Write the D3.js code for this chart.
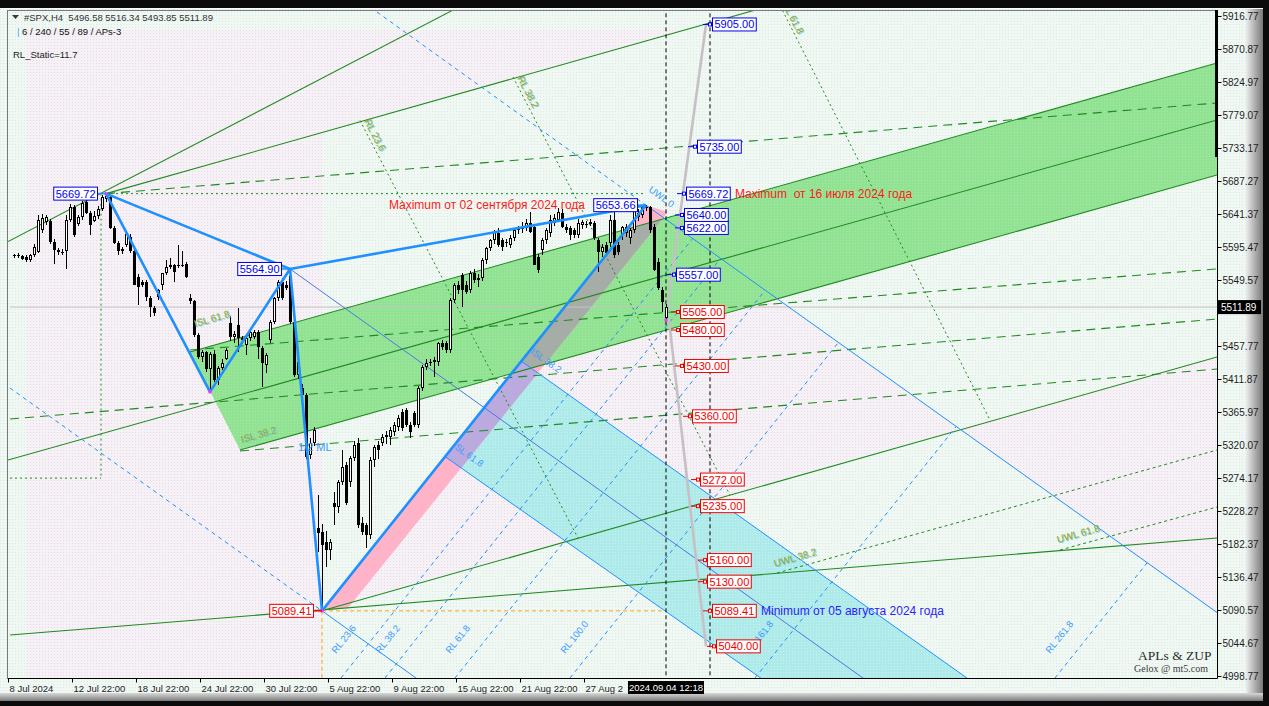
<!DOCTYPE html>
<html>
<head>
  <meta charset="utf-8">
  <title>#SPX,H4 - APLs &amp; ZUP</title>
  <script src="https://d3js.org/d3.v7.min.js"></script>
  <style>
    body { margin: 0; background: #000; }
    svg { display: block; }
    svg text { font-family: "Liberation Sans", Arial, sans-serif; }
  </style>
</head>
<body>
<script>
// ---------- data ----------
var priceTicks = [5916.77, 5870.87, 5824.97, 5779.07, 5733.17, 5687.27, 5641.37, 5595.47,
  5549.57, 5503.67, 5457.77, 5411.87, 5365.97, 5320.07, 5274.17, 5228.27, 5182.37,
  5136.47, 5090.57, 5044.67, 4998.77];
var timeTicks = [-0.5, 15.5, 31.5, 47.5, 63.5, 79.5, 95.5, 111.5, 127.5, 143.5];
var timeLabels = ["8 Jul 2024", "12 Jul 22:00", "18 Jul 22:00", "24 Jul 22:00", "30 Jul 22:00",
  "5 Aug 22:00", "9 Aug 22:00", "15 Aug 22:00", "21 Aug 22:00", "27 Aug 22:00"];
var lastBar = [164, "2024.09.04 12:18"];
var lastQuote = [5496.58, 5516.34, 5493.85, 5511.89];

// H4 bars 1..164 : [open, high, low, close]
var candles = [
  [5583,5586,5580,5584],[5584,5587,5580,5583],[5583,5585,5577,5579],[5582,5584,5574,5577],
  [5577,5586,5575,5584],[5584,5600,5582,5596],[5589,5640,5587,5633],[5619,5642,5615,5636],
  [5630,5640,5626,5637],[5631,5634,5600,5603],[5603,5606,5572,5591],[5591,5594,5585,5588],
  [5588,5592,5584,5589],[5590,5640,5565,5633],[5633,5655,5630,5651],[5651,5654,5610,5612],
  [5628,5640,5625,5637],[5637,5660,5633,5657],[5658,5661,5641,5643],[5643,5646,5612,5626],
  [5632,5646,5630,5638],[5638,5652,5634,5648],[5648,5668,5645,5665],[5662,5669.72,5658,5667],
  [5665,5667,5620,5622],[5622,5625,5599,5601],[5601,5604,5584,5590],[5592,5596,5586,5590],
  [5598,5615,5595,5613],[5610,5613,5587,5590],[5590,5592,5542,5543],[5554,5558,5515,5540],
  [5547,5550,5540,5543],[5547,5550,5520,5526],[5525,5528,5498,5512],[5511,5514,5500,5504],
  [5526,5537,5522,5535],[5542,5560,5535,5559],[5559,5578,5556,5568],[5568,5580,5565,5571],
  [5570,5572,5547,5561],[5570,5598,5566,5571],[5571,5590,5567,5570],[5572,5575,5552,5554],
  [5524,5530,5516,5520],[5520,5522,5470,5473],[5473,5476,5440,5442],[5442,5452,5436,5449],
  [5449,5451,5422,5426],[5426,5450,5394,5446],[5446,5452,5408,5410],[5410,5430,5403,5427],
  [5427,5440,5424,5434],[5440,5455,5438,5452],[5490,5500,5465,5470],[5470,5478,5462,5475],
  [5487,5510,5450,5469],[5469,5472,5460,5466],[5459,5472,5445,5469],[5469,5480,5465,5477],
  [5470,5480,5468,5477],[5477,5480,5440,5456],[5455,5458,5401,5434],[5431,5448,5420,5445],
  [5466,5494,5462,5491],[5491,5526,5488,5524],[5524,5550,5520,5547],[5547,5552,5522,5524],
  [5543,5548,5535,5538],[5555,5564.90,5488,5491],[5491,5495,5415,5418],[5418,5440,5412,5436],
  [5400,5405,5385,5390],[5390,5393,5300,5303],[5306,5330,5300,5323],[5323,5345,5318,5341],
  [5205,5250,5171,5198],[5199,5210,5089.41,5181],[5185,5200,5150,5174],[5174,5190,5160,5185],
  [5239,5255,5209,5234],[5234,5272,5225,5269],[5269,5313,5265,5289],[5292,5296,5236,5239],
  [5269,5305,5262,5302],[5302,5325,5298,5320],[5323,5330,5205,5209],[5212,5220,5195,5199],
  [5209,5212,5177,5195],[5195,5303,5190,5299],[5299,5320,5290,5317],[5320,5325,5300,5313],
  [5323,5335,5318,5331],[5331,5340,5322,5334],[5331,5345,5320,5341],[5338,5352,5333,5348],
  [5345,5362,5340,5358],[5366,5370,5340,5344],[5369,5372,5345,5348],[5348,5352,5330,5338],
  [5365,5368,5345,5348],[5348,5402,5344,5399],[5399,5432,5395,5428],[5428,5440,5424,5434],
  [5434,5440,5430,5436],[5436,5442,5415,5438],[5435,5464,5430,5462],[5462,5466,5452,5456],
  [5462,5465,5448,5452],[5452,5524,5448,5522],[5522,5545,5518,5543],[5543,5548,5530,5536],
  [5556,5560,5512,5536],[5543,5548,5530,5533],[5536,5562,5532,5559],[5559,5565,5545,5550],
  [5553,5558,5540,5550],[5552,5580,5548,5577],[5577,5596,5572,5594],[5594,5607,5590,5605],
  [5605,5619,5600,5616],[5615,5622,5595,5598],[5605,5608,5590,5595],[5602,5606,5596,5601],
  [5598,5612,5594,5608],[5608,5622,5604,5619],[5619,5625,5614,5622],[5620,5630,5615,5623],
  [5622,5634,5618,5629],[5629,5644,5615,5616],[5623,5626,5570,5570],[5582,5586,5560,5563],
  [5591,5608,5585,5605],[5605,5622,5600,5619],[5615,5640,5610,5633],[5629,5642,5625,5636],
  [5633,5650,5630,5644],[5643,5648,5622,5623],[5623,5628,5615,5619],[5622,5625,5605,5612],
  [5619,5622,5608,5612],[5612,5635,5608,5629],[5626,5633,5620,5630],[5628,5632,5622,5626],
  [5630,5634,5624,5627],[5629,5632,5605,5608],[5605,5608,5561,5588],[5588,5600,5582,5595],
  [5598,5602,5585,5587],[5601,5640,5596,5633],[5633,5645,5580,5584],[5598,5602,5585,5588],
  [5612,5625,5605,5623],[5615,5628,5610,5623],[5608,5622,5600,5619],[5619,5652,5615,5650],
  [5637,5648,5632,5643],[5640,5652,5636,5651],[5651,5653.66,5645,5650],[5651,5653,5615,5619],
  [5623,5628,5562,5563],[5575,5580,5535,5538],[5536,5540,5505,5519],[5496.58,5516.34,5493.85,5511.89]
];

// ZUP pivots [bar, price]
var zupPivots = [[24,5669.72],[50,5394],[70,5564.90],[78,5089.41],[159,5653.66]];
var zupExtra = [[[24,5669.72],[70,5564.90]], [[70,5564.90],[159,5653.66]]];

// filled zones (bar, price)
var channelFill = [[45,5449.4],[301.75,5851.4],[301.75,5695.6],[57.5,5313.1]];
var cyanFill = [[127.7,5437.2],[242,4985],[190.5,4985],[108.6,5304.5]];
var pinkBand = [[78,5089.41],[159,5653.66],[164.5,5644.1],[84.5,5093.3]];
var paleZones = [
  [[4,5897.3],[168.25,5897.3],[78,5754.6],[78,4985],[4,4985]],
  [[125,5418.8],[191.7,5523.3],[237.25,5342.3],[78,5089.41]],
  [[237.25,5342.3],[301.75,5442.4],[301.75,5087.1]]
];

// lines (bar, price)
var greenSolid = [
  [[45,5449.4],[301.75,5851.4]], [[57.5,5313.1],[301.75,5695.6]], [[-0.5,5299.2],[301.75,5772.1]],
  [[-0.5,5603],[110.75,5925]], [[24,5669.72],[192,5934]],
  [[78,5089.41],[301.75,5442.4]], [[0,5055.8],[301.75,5190.7]]
];
var greenLongDash = [
  [[24,5669.72],[301.75,5795.8]], [[45,5452.2],[301.75,5564.9]],
  [[0,5356.2],[301.75,5495.3]], [[57.5,5311.7],[301.75,5425.8]]
];
var greenShortDash = [[[191.75,5142.0],[301.75,5313.1]], [[262.5,5174.0],[301.75,5233.8]]];
var greenDotted = [
  [[87.5,5771.3],[142,5190.7]], [[125.75,5831.9],[180,5250.5]], [[192,5936.9],[245,5354.8]],
  [[22.75,5669.72],[22.75,5274]], [[0,5274],[22.75,5274]], [[24,5669.72],[159,5669.72]]
];
var blueThin = [
  [[159,5653.66],[301.75,5087.1]], [[78,5089.41],[103,4990]],
  [[127.7,5437.2],[242,4985]], [[108.6,5304.5],[190.5,4985]]
];
var medianLine = [[70,5564.90],[216,4985]];
var blueDashed = [
  [[91.75,5922.3],[159,5653.66]], [[0,5399.3],[78,5089.41]],
  [[82.75,4996],[170.66,5607.4]], [[93.75,4996],[177.66,5579.6]], [[111.25,4996],[188.8,5535.4]],
  [[140,4996],[207.1,5462.7]], [[186.25,4996],[236.55,5345.8]], [[261.25,4996],[284.3,5156.3]]
];
var orangeLevel = [[[78,5089.41],[163,5089.41]], [[78,5089.41],[78,4985]]];
var timeMarks = [164, 175];
var projections = [[[164,5497],[174,5905]], [[164.75,5494],[174,5040]]];

// target levels and the bar where each tag stands
var upTargets = [5905, 5735, 5669.72, 5640, 5622, 5557];
var upTargetBars = [175.5, 171.75, 169, 168.5, 168.5, 166.5];
var downTargets = [5505, 5480, 5430, 5360, 5272, 5235, 5160, 5130, 5089.41, 5040];
var downTargetBars = [167.5, 167.5, 168.5, 170.5, 172.5, 172.5, 174.25, 174.25, 175.5, 176.5];

var notes = [["Maximum от 02 сентября 2024 года", 94.75, 5653.66],
             ["Maximum  от 16 июля 2024 года", 181.25, 5669.72],
             ["Minimum от 05 августа 2024 года", 187.75, 5089.41]];
var levelTags = [["ISL 61.8",46.25,5484.2,-16], ["ISL 38.2",58,5322.8,-16],
  ["UWL 38.2",191.25,5150.4,-16], ["UWL 61.8",262,5183.7,-16],
  ["RL 23.6",88.5,5770.7,62.6], ["RL 38.2",126.75,5830.5,62.6], ["RL 61.8",193,5933.5,62.6]];
var forkTags = [["UWL 0",159.5,5673.3,35.5], ["ISL 38.2",130,5448,35.5], ["ISL 61.8",110.5,5317.3,35.5],
  ["1/2 ML",72,5311.7,0], ["RL 23.6",81.5,5029.4,-51.3], ["RL 38.2",92.5,5029.4,-51.3],
  ["RL 61.8",110,5029.4,-51.3], ["RL 100.0",138.75,5029.4,-51.3], ["RL 161.8",185,5029.4,-51.3],
  ["RL 261.8",260,5029.4,-51.3]];

// ---------- drawing ----------
var W = 1269, H = 706;
var x = d3.scaleLinear().domain([0, 301.75]).range([10, 1217]);
var y = d3.scaleLinear().domain([4998.77, 5916.77]).range([676, 16]);
var line = d3.line().x(function (d) { return x(d[0]); }).y(function (d) { return y(d[1]); });

var svg = d3.select("body").append("svg").attr("width", W).attr("height", H);
var defs = svg.append("defs");

function dotPattern(id, bg, dot) {
  var p = defs.append("pattern").attr("id", id).attr("patternUnits", "userSpaceOnUse")
    .attr("width", 3).attr("height", 3);
  p.append("rect").attr("width", 3).attr("height", 3).attr("fill", bg);
  p.append("rect").attr("width", 1).attr("height", 1).attr("fill", dot);
}
dotPattern("dBg", "#f1f8f2", "#d2eaf0");
dotPattern("dPink", "#f4f2f4", "#f2d2ee");
dotPattern("dGreen", "#92e294", "#a6e8a8");
dotPattern("dCyan", "#aeeaea", "#c8f3f3");

var gR = defs.append("linearGradient").attr("id", "bevR").attr("x1", 0).attr("x2", 1).attr("y1", 0).attr("y2", 0);
gR.append("stop").attr("offset", "0%").attr("stop-color", "#ececec");
gR.append("stop").attr("offset", "100%").attr("stop-color", "#787878");
var gB = defs.append("linearGradient").attr("id", "bevB").attr("x1", 0).attr("x2", 0).attr("y1", 0).attr("y2", 1);
gB.append("stop").attr("offset", "0%").attr("stop-color", "#d8d8d8");
gB.append("stop").attr("offset", "100%").attr("stop-color", "#7a7a7a");

defs.append("clipPath").attr("id", "plot").append("rect")
  .attr("x", 8).attr("y", 10).attr("width", 1209).attr("height", 668);
defs.append("clipPath").attr("id", "cGreen").append("path").attr("d", line(channelFill) + "Z");
defs.append("clipPath").attr("id", "cCyan").append("path").attr("d", line(cyanFill) + "Z");

// window frame
svg.append("rect").attr("width", W).attr("height", H).attr("fill", "#0b0b0b");
svg.append("rect").attr("x", 0).attr("y", 8).attr("width", 1263).attr("height", 693).attr("fill", "url(#dBg)");
svg.append("rect").attr("x", 1246).attr("y", 8).attr("width", 17).attr("height", 693).attr("fill", "url(#bevR)");
svg.append("rect").attr("x", 0).attr("y", 693).attr("width", 1263).attr("height", 8).attr("fill", "url(#bevB)");
svg.append("line").attr("x1", 0).attr("x2", 1263).attr("y1", 8.5).attr("y2", 8.5).attr("stroke", "#fafafa");

var chart = svg.append("g").attr("clip-path", "url(#plot)");

function strokes(data, color, width, dash) {
  chart.append("g").selectAll("path").data(data).enter().append("path")
    .attr("d", line).attr("fill", "none").attr("stroke", color)
    .attr("stroke-width", width).attr("stroke-dasharray", dash || null);
}
function zone(pts, fill, clip) {
  chart.append("path").attr("d", line(pts) + "Z").attr("fill", fill)
    .attr("clip-path", clip || null);
}

// fills
paleZones.forEach(function (z) { zone(z, "url(#dPink)"); });
zone(cyanFill, "url(#dCyan)");
zone(channelFill, "url(#dGreen)");
zone(pinkBand, "#ffb3c9");
zone(pinkBand, "#a6aca6", "url(#cGreen)");
zone(pinkBand, "#baaade", "url(#cCyan)");

// current price line
strokes([[[0, lastQuote[3]], [301.75, lastQuote[3]]]], "#c9c2c4", 1);

// analysis lines
strokes(greenSolid, "#1f8a1f", 1.1);
strokes(greenLongDash, "#1f8a1f", 1.1, "9,6");
strokes(greenShortDash, "#1f8a1f", 1, "3,3");
strokes(greenDotted, "#1f8a1f", 1, "2,3");
strokes(blueThin, "#1e90ff", 1);
strokes([medianLine], "#4a78e0", 1);
strokes(blueDashed, "#1e90ff", 1, "4,4");
strokes(orangeLevel, "#ffa11a", 1, "4,3");
strokes(timeMarks.map(function (b) { return [[b, 5940], [b, 4980]]; }), "#000", 1, "4,3");
strokes(projections, "#c6c0c6", 2.6);

// candles
var cg = chart.append("g").attr("shape-rendering", "crispEdges");
var bar = cg.selectAll("g").data(candles).enter().append("g");
bar.append("rect")
  .attr("x", function (d, i) { return Math.round(x(i + 1)); })
  .attr("y", function (d) { return Math.round(y(d[1])); })
  .attr("width", 1)
  .attr("height", function (d) { return Math.max(1, Math.round(y(d[2])) - Math.round(y(d[1]))); })
  .attr("fill", "#000");
bar.append("rect")
  .attr("x", function (d, i) { return Math.round(x(i + 1)) - 1; })
  .attr("y", function (d) { return Math.round(y(Math.max(d[0], d[3]))); })
  .attr("width", 3)
  .attr("height", function (d) { return Math.max(1, Math.round(y(Math.min(d[0], d[3]))) - Math.round(y(Math.max(d[0], d[3])))); })
  .attr("fill", "#000");
bar.filter(function (d) { return d[3] > d[0] && (y(d[0]) - y(d[3])) > 2.5; }).append("rect")
  .attr("x", function (d) { return Math.round(x(candles.indexOf(d) + 1)); })
  .attr("y", function (d) { return Math.round(y(d[3])) + 1; })
  .attr("width", 1)
  .attr("height", function (d) { return Math.round(y(d[0])) - Math.round(y(d[3])) - 2; })
  .attr("fill", "#fff");

// ZUP zigzag
chart.append("path").attr("d", line(zupPivots)).attr("fill", "none")
  .attr("stroke", "#1e90ff").attr("stroke-width", 2.6).attr("stroke-linejoin", "round");
strokes(zupExtra, "#1e90ff", 2.6);
chart.selectAll(null).data([zupPivots[0], zupPivots[1], zupPivots[3], [164, lastQuote[2]]]).enter()
  .append("rect").attr("x", function (d) { return x(d[0]) - 1.5; }).attr("y", function (d) { return y(d[1]) - 1.5; })
  .attr("width", 3).attr("height", 3).attr("fill", "#ff30ff");

// tags along the lines
var tg = chart.append("g");
levelTags.forEach(function (t) {
  var px = x(t[1]), py = y(t[2]);
  tg.append("text").attr("transform", "translate(" + (px + 0.8) + "," + (py + 0.8) + ") rotate(" + t[3] + ")")
    .attr("font-size", 10).attr("fill", "#6fd3ea").text(t[0]);
  tg.append("text").attr("transform", "translate(" + px + "," + py + ") rotate(" + t[3] + ")")
    .attr("font-size", 10).attr("fill", "#9aa424").text(t[0]);
});
forkTags.forEach(function (t) {
  tg.append("text").attr("transform", "translate(" + x(t[1]) + "," + y(t[2]) + ") rotate(" + t[3] + ")")
    .attr("font-size", t[3] === 0 ? 11 : 9.5).attr("fill", "#3d9bff").text(t[0]);
});

// price tags
var lg = chart.append("g");
function tag(left, p, txt, color, anchorEnd) {
  var cy = y(p);
  var t = lg.append("text").attr("font-size", 11).attr("fill", color).attr("y", cy).attr("dy", "0.36em").text(txt);
  var w = t.node().getComputedTextLength() + 4;
  var bx = anchorEnd ? left - w : left;
  lg.insert("rect", function () { return t.node(); }).attr("x", bx + 0.5).attr("y", cy - 6.5)
    .attr("width", w).attr("height", 13).attr("fill", "#fff").attr("stroke", color).attr("stroke-width", 1);
  t.attr("x", bx + 2.5);
  return w;
}
function target(b, p, color) {
  var left = x(b), cy = y(p);
  lg.append("line").attr("x1", left - 9).attr("x2", left - 2).attr("y1", cy).attr("y2", cy)
    .attr("stroke", color).attr("stroke-width", 1);
  lg.append("rect").attr("x", left - 3.5).attr("y", cy - 1.5).attr("width", 3).attr("height", 3)
    .attr("fill", "#fff").attr("stroke", color);
  tag(left, p, d3.format(".2f")(p), color, false);
}
upTargets.forEach(function (p, i) { target(upTargetBars[i], p, "#0000ee"); });
downTargets.forEach(function (p, i) { target(downTargetBars[i], p, "#ee0000"); });
[zupPivots[0], zupPivots[2], zupPivots[4], zupPivots[3]].forEach(function (d) {
  var color = d === zupPivots[3] ? "#ee0000" : "#0000ee";
  lg.append("line").attr("x1", x(d[0]) - 10).attr("x2", x(d[0])).attr("y1", y(d[1])).attr("y2", y(d[1]))
    .attr("stroke", color === "#ee0000" ? color : "#1e90ff").attr("stroke-width", 1.5);
  tag(x(d[0]) - 9, d[1], d3.format(".2f")(d[1]), color, true);
});
lg.selectAll(null).data(notes).enter().append("text")
  .attr("x", function (d) { return x(d[1]); }).attr("y", function (d) { return y(d[2]); }).attr("dy", "0.36em")
  .attr("font-size", 12).style("white-space", "pre")
  .attr("fill", function (d, i) { return i < 2 ? "#ff1a1a" : "#2a22ff"; })
  .text(function (d) { return d[0]; });

// watermark
svg.append("text").attr("x", 1138).attr("y", 660).attr("font-size", 13.5).attr("fill", "#2c2c2c")
  .style("font-family", "'Liberation Serif', 'DejaVu Serif', serif").text("APLs & ZUP");
svg.append("text").attr("x", 1134).attr("y", 672).attr("font-size", 10).attr("fill", "#3a3a3a")
  .style("font-family", "'Liberation Serif', 'DejaVu Serif', serif").text("Gelox @ mt5.com");

// plot border
svg.append("line").attr("x1", 7.5).attr("x2", 1217).attr("y1", 10.5).attr("y2", 10.5).attr("stroke", "#7a7a7a");
svg.append("line").attr("x1", 7.5).attr("x2", 7.5).attr("y1", 10).attr("y2", 678).attr("stroke", "#7a7a7a");
svg.append("line").attr("x1", 1217.5).attr("x2", 1217.5).attr("y1", 10).attr("y2", 678.5).attr("stroke", "#000");
svg.append("line").attr("x1", 7.5).attr("x2", 1217.5).attr("y1", 678.5).attr("y2", 678.5).attr("stroke", "#000");
svg.append("rect").attr("x", 1215).attr("y", 10).attr("width", 3).attr("height", 147).attr("fill", "#000");

// price axis (the tick hidden under the live-price box is left out)
var cy0 = y(lastQuote[3]);
var ya = svg.append("g").attr("transform", "translate(1217.5,0)")
  .call(d3.axisRight(y).tickValues(priceTicks).tickSize(4).tickFormat(d3.format(".2f")));
ya.select(".domain").remove();
ya.selectAll("line").attr("stroke", "#000");
ya.selectAll("text").attr("font-size", 10).attr("fill", "#1c1c1c").attr("x", 5);
ya.selectAll(".tick").filter(function (d) { return Math.abs(y(d) - cy0) < 12; }).select("text").remove();
svg.append("rect").attr("x", 1218).attr("y", cy0 - 7).attr("width", 43).attr("height", 14).attr("fill", "#000");
svg.append("text").attr("x", 1221).attr("y", cy0).attr("dy", "0.36em").attr("font-size", 10)
  .attr("fill", "#fff").text(d3.format(".2f")(lastQuote[3]));

// time axis
var lx = x(lastBar[0]);
var xa = svg.append("g").attr("transform", "translate(0,678.5)")
  .call(d3.axisBottom(x).tickValues(timeTicks).tickSize(4).tickFormat(function (d, i) { return timeLabels[i]; }));
xa.select(".domain").remove();
xa.selectAll("line").attr("stroke", "#000");
xa.selectAll("text").attr("font-size", 9.5).attr("fill", "#1c1c1c").attr("text-anchor", "start").attr("x", 1);
// the label running under the cursor box is shortened the way the terminal shows it
xa.selectAll(".tick text").each(function (d, i) {
  var t = d3.select(this);
  if (x(d) + this.getComputedTextLength() > lx - 38) t.text(timeLabels[i].slice(0, 7) + "2");
});
svg.append("rect").attr("x", lx - 38).attr("y", 681).attr("width", 76).attr("height", 13).attr("fill", "#000");
svg.append("text").attr("x", lx).attr("y", 691).attr("text-anchor", "middle").attr("font-size", 9.5)
  .attr("fill", "#fff").text(lastBar[1]);

// header
svg.append("path").attr("d", "M12,15 L19,15 L15.5,19 Z").attr("fill", "#3a3a3a");
svg.append("text").attr("x", 24).attr("y", 21).attr("font-size", 9.5).attr("fill", "#333").style("white-space", "pre")
  .text("#SPX,H4  " + lastQuote.map(d3.format(".2f")).join(" "));
svg.append("text").attr("x", 17).attr("y", 34.5).attr("font-size", 9.5).attr("fill", "#3fa9ff").text("|");
svg.append("text").attr("x", 22).attr("y", 34.5).attr("font-size", 9.5).attr("fill", "#111").text("6 / 240 / 55 / 89 / APs-3");
svg.append("text").attr("x", 13).attr("y", 58).attr("font-size", 9.5).attr("fill", "#222").text("RL_Static=11.7");
</script>
</body>
</html>
